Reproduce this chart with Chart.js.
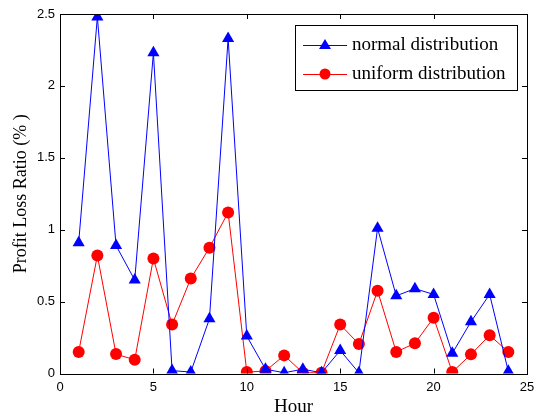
<!DOCTYPE html>
<html><head><meta charset="utf-8">
<script src="https://cdn.jsdelivr.net/npm/chart.js@4/dist/chart.umd.min.js"></script>
<style>html,body{margin:0;padding:0;background:#fff}#wrap{width:534px;height:418px}</style>
</head><body><div id="wrap"><canvas id="c" width="534" height="418"></canvas></div>
<script>
const hours = [1,2,3,4,5,6,7,8,9,10,11,12,13,14,15,16,17,18,19,20,21,22,23,24];
const normalDist = [0.91,2.48,0.89,0.65,2.23,0.02,0.01,0.38,2.33,0.26,0.03,0.005,0.03,0.005,0.16,0.005,1.01,0.54,0.59,0.55,0.14,0.36,0.55,0.015];
const uniformDist = [0.15,0.82,0.135,0.095,0.80,0.34,0.66,0.875,1.12,0.01,0.017,0.126,0.005,0.005,0.34,0.205,0.575,0.15,0.21,0.388,0.01,0.133,0.266,0.15];
const seriesNames = ['normal distribution','uniform distribution'];
const xTicks = [0,5,10,15,20,25];
const yTicks = [0,0.5,1,1.5,2,2.5];

const toPts = (xs, ys) => xs.map((x,i)=>({x:x,y:ys[i]}));

const boxPlugin = {
  id:'box',
  afterDraw(chart){
    const {ctx, chartArea:a, scales:{x,y}} = chart;
    ctx.save();
    ctx.strokeStyle='#000'; ctx.lineWidth=1;
    ctx.strokeRect(Math.round(a.left)+0.5, Math.round(a.top)+0.5, Math.round(a.right-a.left), Math.round(a.bottom-a.top));
    ctx.beginPath();
    xTicks.forEach(v=>{const px=Math.round(x.getPixelForValue(v))+0.5;
      ctx.moveTo(px,a.bottom);ctx.lineTo(px,a.bottom-5);ctx.moveTo(px,a.top);ctx.lineTo(px,a.top+5);});
    yTicks.forEach(v=>{const py=Math.round(y.getPixelForValue(v))+0.5;
      ctx.moveTo(a.left,py);ctx.lineTo(a.left+5,py);ctx.moveTo(a.right,py);ctx.lineTo(a.right-5,py);});
    ctx.stroke();
    // legend
    const lx=295, ly=25, lw=222, lh=65;
    ctx.fillStyle='#fff'; ctx.fillRect(lx,ly,lw,lh);
    ctx.strokeRect(lx+0.5,ly+0.5,lw,lh);
    const items=[{c:'#0000ff',m:'tri',t:seriesNames[0],yy:45},{c:'#ff0000',m:'circ',t:seriesNames[1],yy:74}];
    items.forEach(it=>{
      ctx.strokeStyle=it.c; ctx.lineWidth=1;
      ctx.beginPath(); ctx.moveTo(303,it.yy+0.5); ctx.lineTo(347,it.yy+0.5); ctx.stroke();
      ctx.fillStyle=it.c; ctx.beginPath();
      if(it.m==='tri'){ctx.moveTo(325,it.yy-6);ctx.lineTo(331,it.yy+4);ctx.lineTo(319,it.yy+4);ctx.closePath();}
      else {ctx.arc(325,it.yy,5.5,0,Math.PI*2);}
      ctx.fill();
      ctx.fillStyle='#000'; ctx.font='19px "Liberation Serif"'; ctx.textBaseline='middle'; ctx.textAlign='left';
      ctx.fillText(it.t,352,it.yy);
    });
    ctx.restore();
  }
};

new Chart(document.getElementById('c'),{
  type:'line',
  data:{datasets:[
    {label:seriesNames[0],data:toPts(hours,normalDist),borderColor:'#0000ff',backgroundColor:'#0000ff',borderWidth:1,pointStyle:'triangle',pointRadius:7,pointBorderWidth:0,tension:0},
    {label:seriesNames[1],data:toPts(hours,uniformDist),borderColor:'#ff0000',backgroundColor:'#ff0000',borderWidth:1,pointStyle:'circle',pointRadius:6,pointBorderWidth:0,tension:0}
  ]},
  options:{
    responsive:false,animation:false,
    layout:{padding:{left:10,right:3,top:14,bottom:0}},
    plugins:{legend:{display:false},tooltip:{enabled:false}},
    scales:{
      x:{type:'linear',min:0,max:25,
        afterBuildTicks:s=>{s.ticks=xTicks.map(v=>({value:v}));},
        afterFit:s=>{s.height=44.5;s.paddingLeft=0;s.paddingRight=0;},
        grid:{display:false,drawTicks:false},border:{display:false},
        ticks:{color:'#000',font:{family:'"Liberation Sans"',size:13},padding:6,maxRotation:0},
        title:{display:true,text:'Hour',color:'#000',font:{family:'"Liberation Serif"',size:19},padding:{top:0,bottom:0}}
      },
      y:{min:0,max:2.5,
        afterBuildTicks:s=>{s.ticks=yTicks.map(v=>({value:v}));},
        afterFit:s=>{s.width=50;s.paddingTop=0;s.paddingBottom=0;},
        grid:{display:false,drawTicks:false},border:{display:false},
        ticks:{color:'#000',font:{family:'"Liberation Sans"',size:13},padding:5,callback:v=>String(v)},
        title:{display:true,text:'Profit Loss Ratio (% )',color:'#000',font:{family:'"Liberation Serif"',size:18},padding:{top:0,bottom:0}}
      }
    }
  },
  plugins:[boxPlugin]
});
</script></body></html>
